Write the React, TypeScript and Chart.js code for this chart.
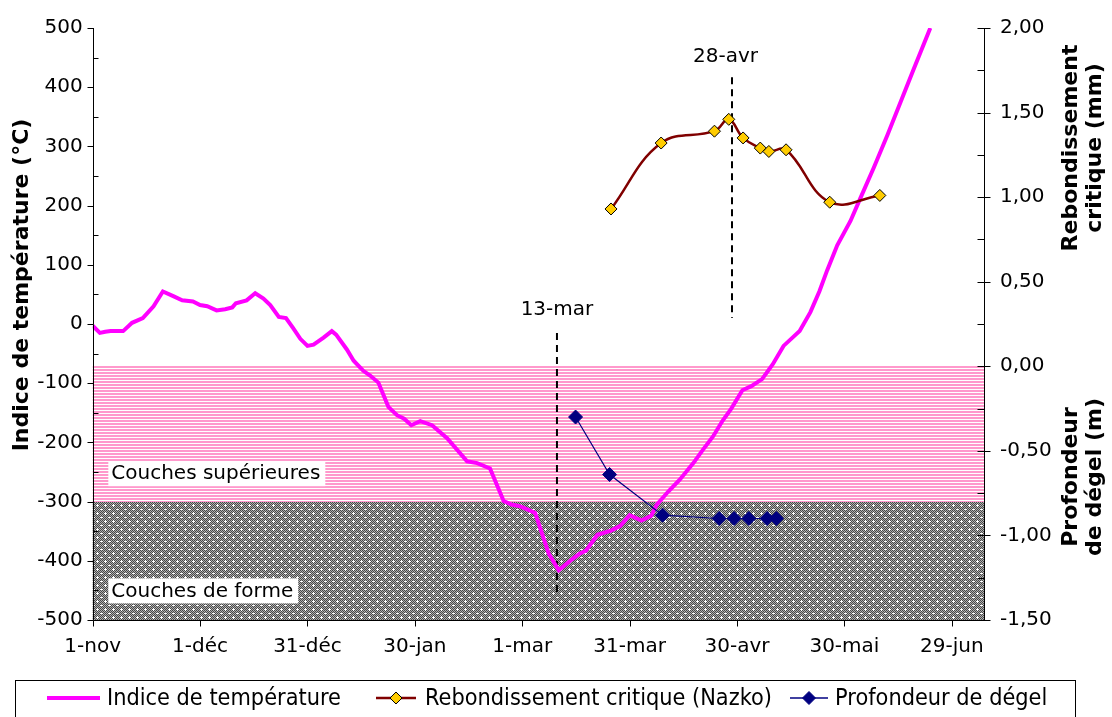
import { useEffect, useRef } from "react";
import { Chart, registerables } from "chart.js";

Chart.register(...registerables);

// ---------- data ----------
const xTickDays = [0, 30, 60, 90, 120, 150, 180, 210, 240];
const xTickLabels = ["1-nov", "1-déc", "31-déc", "30-jan", "1-mar", "31-mar", "30-avr", "30-mai", "29-jun"];
const yLeftTicks = [-500, -400, -300, -200, -100, 0, 100, 200, 300, 400, 500];
const yRightTicks = [-1.5, -1, -0.5, 0, 0.5, 1, 1.5, 2];

// Indice de température (°C) — days since 1-nov
const tempDays = [
  0, 2, 3.5, 5, 8.5, 11, 14, 17, 19.6, 22.5, 25, 28, 30, 32, 34.6, 37, 39, 40, 43, 45.4,
  47.7, 49.6, 52, 54, 56, 58, 60, 61.7, 64.5, 66.8, 68, 71, 72.9, 75.6, 77.5, 79.8, 82.6, 85,
  87, 89, 91.5, 94.8, 99, 104.6, 107.4, 111, 114.8, 117, 119.5, 123.6, 127.4, 130.2, 134, 136,
  137.8, 141, 144.8, 147.4, 150, 153.3, 156, 157.6, 160.8, 164, 167.8, 170.4, 173.3, 176,
  178.4, 181.5, 184, 187, 190, 193, 195.5, 197.5, 200.5, 203, 205.2, 208, 211.7, 214.5, 218.2,
  222, 225.7, 229.4, 234,
];
const tempValues = [
  -3, -15, -13, -12, -12, 2, 10, 30, 55, 47, 40, 38, 32, 30, 23, 25, 28, 35, 40, 52,
  43, 32, 12, 10, -7, -25, -37, -35, -23, -12, -18, -43, -62, -79, -87, -99, -140, -154,
  -160, -171, -164, -171, -193, -232, -235, -244, -299, -305, -308, -319, -388, -416, -397, -388,
  -383, -356, -349, -341, -323, -332, -324, -305, -283, -263, -235, -213, -190, -163,
  -143, -112, -105, -93, -68, -37, -23, -12, 20, 55, 91, 133, 174, 213, 264,
  319, 375, 431, 500,
];

// Rebondissement critique (Nazko) (mm)
const rebDays = [144.8, 158.8, 173.7, 177.7, 181.7, 186.5, 188.9, 193.7, 205.9, 219.9];
const rebValues = [0.93, 1.32, 1.39, 1.46, 1.35, 1.29, 1.27, 1.28, 0.97, 1.01];

// Profondeur de dégel (m)
const depthDays = [134.9, 144.4, 159.2, 175, 179.2, 183.3, 188.4, 191];
const depthValues = [-0.3, -0.64, -0.88, -0.9, -0.9, -0.9, -0.9, -0.9];

// layer bands (right axis, m)
const bandLabels = ["Couches supérieures", "Couches de forme"];
const bandTops = [0, -0.8];
const bandBottoms = [-0.8, -1.5];
const bandLabelDays = [5.2, 5.2];
const bandLabelValues = [-252, -450];

// date markers
const markerLabels = ["13-mar", "28-avr"];
const markerDays = [129.7, 178.6];
const markerTops = [-15, 417];
const markerBottoms = [-461, 10];
const markerLabelDays = [129.7, 176.8];
const markerLabelValues = [24, 452];

const legendLabels = ["Indice de température", "Rebondissement critique (Nazko)", "Profondeur de dégel"];

const FONT = "DejaVu Sans";

function makePinkPattern(ctx: CanvasRenderingContext2D) {
  const c = document.createElement("canvas");
  c.width = 4;
  c.height = 3;
  const g = c.getContext("2d")!;
  g.fillStyle = "#ffffff";
  g.fillRect(0, 0, 4, 3);
  g.fillStyle = "#ff99cc";
  g.fillRect(0, 0, 4, 2);
  return ctx.createPattern(c, "repeat")!;
}

function makeGrayPattern(ctx: CanvasRenderingContext2D) {
  const c = document.createElement("canvas");
  c.width = 8;
  c.height = 8;
  const g = c.getContext("2d")!;
  for (let yy = 0; yy < 8; yy++) {
    for (let xx = 0; xx < 8; xx++) {
      g.fillStyle = (xx + yy) % 2 === 0 ? "#474747" : "#b0b0b0";
      g.fillRect(xx, yy, 1, 1);
    }
  }
  g.fillStyle = "#ffffff";
  g.fillRect(0, 1, 3, 1);
  g.fillRect(1, 0, 1, 1);
  g.fillRect(1, 2, 1, 1);
  g.fillRect(4, 5, 3, 1);
  return ctx.createPattern(c, "repeat")!;
}

function drawDiamond(ctx: CanvasRenderingContext2D, x: number, y: number, r: number, fill: string, stroke: string) {
  ctx.beginPath();
  ctx.moveTo(x, y - r);
  ctx.lineTo(x + r, y);
  ctx.lineTo(x, y + r);
  ctx.lineTo(x - r, y);
  ctx.closePath();
  ctx.fillStyle = fill;
  ctx.fill();
  ctx.lineWidth = 1;
  ctx.strokeStyle = stroke;
  ctx.stroke();
}

const decoPlugin = {
  id: "deco",
  beforeDatasetsDraw(chart: any) {
    const { ctx, chartArea: a, scales } = chart;
    const x = scales.x, y = scales.y, y2 = scales.y2;
    ctx.save();
    const fills = [makePinkPattern(ctx), makeGrayPattern(ctx)];
    for (let i = 0; i < bandTops.length; i++) {
      const t = y2.getPixelForValue(bandTops[i]);
      const b = y2.getPixelForValue(bandBottoms[i]);
      ctx.fillStyle = fills[i];
      ctx.fillRect(a.left, Math.round(t), a.right - a.left, Math.round(b) - Math.round(t));
    }
    ctx.font = `20px ${FONT}`;
    ctx.textBaseline = "middle";
    ctx.textAlign = "left";
    for (let i = 0; i < bandLabels.length; i++) {
      const px = x.getPixelForValue(bandLabelDays[i]);
      const py = y.getPixelForValue(bandLabelValues[i]);
      const w = ctx.measureText(bandLabels[i]).width;
      ctx.fillStyle = "#ffffff";
      ctx.fillRect(px - 3, py - 12, w + 8, 25);
      ctx.fillStyle = "#000000";
      ctx.fillText(bandLabels[i], px, py + 1);
    }
    ctx.restore();
  },
  afterDraw(chart: any) {
    const { ctx, chartArea: a, scales } = chart;
    const x = scales.x, y = scales.y, y2 = scales.y2;
    ctx.save();
    // axes
    ctx.strokeStyle = "#000";
    ctx.lineWidth = 1;
    const L = Math.round(a.left) + 0.5;
    const R = Math.round(a.right) + 0.5;
    const B = Math.round(a.bottom) + 0.5;
    ctx.beginPath();
    ctx.moveTo(L, a.top);
    ctx.lineTo(L, B);
    ctx.lineTo(R, B);
    ctx.moveTo(R, a.top);
    ctx.lineTo(R, B);
    for (let v = -500; v <= 500; v += 50) {
      const py = Math.round(y.getPixelForValue(v)) + 0.5;
      if (v % 100 === 0) {
        ctx.moveTo(L - 6, py);
        ctx.lineTo(L, py);
      } else {
        ctx.moveTo(L, py);
        ctx.lineTo(L + 5, py);
      }
    }
    for (let v = -1.5; v <= 2.001; v += 0.25) {
      const py = Math.round(y2.getPixelForValue(v)) + 0.5;
      const major = Math.abs(v * 2 - Math.round(v * 2)) < 1e-6;
      if (major) {
        ctx.moveTo(R - 7, py);
        ctx.lineTo(R + 6, py);
      } else {
        ctx.moveTo(R - 7, py);
        ctx.lineTo(R, py);
      }
    }
    for (const d of xTickDays) {
      const px = Math.round(x.getPixelForValue(d)) + 0.5;
      ctx.moveTo(px, B);
      ctx.lineTo(px, B + 6);
    }
    ctx.stroke();

    // marker labels
    ctx.fillStyle = "#000";
    ctx.font = `20px ${FONT}`;
    ctx.textAlign = "center";
    ctx.textBaseline = "middle";
    for (let i = 0; i < markerLabels.length; i++) {
      ctx.fillText(markerLabels[i], x.getPixelForValue(markerLabelDays[i]), y.getPixelForValue(markerLabelValues[i]));
    }

    // axis titles
    ctx.font = `bold 22px ${FONT}`;
    const vtext = (lines: string[], cx: number, cy: number, gap: number) => {
      ctx.save();
      ctx.translate(cx, cy);
      ctx.rotate(-Math.PI / 2);
      lines.forEach((t, k) => {
        const off = (k - (lines.length - 1) / 2) * gap;
        ctx.fillText(t, 0, off);
      });
      ctx.restore();
    };
    vtext(["Indice de température (°C)"], 22, 285, 0);
    vtext(["Rebondissement", "critique (mm)"], 1083, 148, 24);
    vtext(["Profondeur", "de dégel (m)"], 1083, 477, 24);

    // legend
    ctx.lineWidth = 1;
    ctx.strokeStyle = "#000";
    ctx.strokeRect(15.5, 680.5, 1060, 80);
    const ly = 698;
    ctx.lineCap = "butt";
    ctx.strokeStyle = "#ff00ff";
    ctx.lineWidth = 4;
    ctx.beginPath();
    ctx.moveTo(47, ly);
    ctx.lineTo(100, ly);
    ctx.stroke();
    ctx.strokeStyle = "#800000";
    ctx.lineWidth = 2.5;
    ctx.beginPath();
    ctx.moveTo(376, ly);
    ctx.lineTo(416, ly);
    ctx.stroke();
    drawDiamond(ctx, 396, ly, 6, "#ffcc00", "#000");
    ctx.strokeStyle = "#000080";
    ctx.lineWidth = 1.5;
    ctx.beginPath();
    ctx.moveTo(790, ly);
    ctx.lineTo(828, ly);
    ctx.stroke();
    drawDiamond(ctx, 809, ly, 6.5, "#000080", "#000080");
    ctx.fillStyle = "#000";
    ctx.font = `23px ${FONT}`;
    ctx.textAlign = "left";
    ctx.textBaseline = "middle";
    const lx = [107, 425, 835];
    legendLabels.forEach((t, i) => {
      ctx.save();
      ctx.translate(lx[i], ly + 1);
      ctx.scale(0.91, 1);
      ctx.fillText(t, 0, 0);
      ctx.restore();
    });
    ctx.restore();
  },
};

export default function App() {
  const ref = useRef<HTMLCanvasElement | null>(null);
  useEffect(() => {
    if (!ref.current) return;
    Chart.defaults.font.family = FONT;
    const markerSets = markerDays.map((d, i) => ({
      type: "line" as const,
      label: markerLabels[i],
      data: [
        { x: d, y: markerTops[i] },
        { x: d, y: markerBottoms[i] },
      ],
      borderColor: "#000",
      borderWidth: 2,
      borderDash: [7, 5],
      pointRadius: 0,
      yAxisID: "y",
      order: 5,
    }));
    const chart = new Chart(ref.current, {
      type: "line",
      data: {
        datasets: [
          {
            label: legendLabels[2],
            data: depthDays.map((d, i) => ({ x: d, y: depthValues[i] })),
            borderColor: "#000080",
            borderWidth: 1.2,
            pointStyle: "rectRot",
            pointRadius: 7,
            pointBackgroundColor: "#000080",
            pointBorderColor: "#000080",
            pointBorderWidth: 1,
            yAxisID: "y2",
            tension: 0,
            order: 0,
          },
          {
            label: legendLabels[1],
            data: rebDays.map((d, i) => ({ x: d, y: rebValues[i] })),
            borderColor: "#800000",
            borderWidth: 2.5,
            pointStyle: "rectRot",
            pointRadius: 6,
            pointBackgroundColor: "#ffcc00",
            pointBorderColor: "#000000",
            pointBorderWidth: 1,
            yAxisID: "y2",
            tension: 0.4,
            order: 1,
          },
          {
            label: legendLabels[0],
            data: tempDays.map((d, i) => ({ x: d, y: tempValues[i] })),
            borderColor: "#ff00ff",
            borderWidth: 4,
            pointRadius: 0,
            yAxisID: "y",
            tension: 0,
            order: 2,
          },
          ...markerSets,
        ],
      },
      options: {
        animation: false,
        responsive: true,
        maintainAspectRatio: false,
        layout: { padding: { top: 22, left: 0, right: 0, bottom: 0 } },
        plugins: { legend: { display: false }, tooltip: { enabled: false } },
        scales: {
          x: {
            type: "linear",
            position: "bottom",
            min: 0,
            max: 249,
            afterBuildTicks: (s: any) => {
              s.ticks = xTickDays.map((v) => ({ value: v }));
            },
            afterFit: (s: any) => {
              s.height = 97;
            },
            ticks: {
              autoSkip: false,
              maxRotation: 0,
              padding: 15,
              color: "#000",
              font: { size: 20, family: FONT },
              callback: (v: any) => {
                const i = xTickDays.indexOf(Number(v));
                return i >= 0 ? xTickLabels[i] : "";
              },
            },
            grid: { display: false, drawTicks: false },
            border: { display: false },
          },
          y: {
            type: "linear",
            position: "left",
            min: -500,
            max: 500,
            afterBuildTicks: (s: any) => {
              s.ticks = yLeftTicks.map((v) => ({ value: v }));
            },
            afterFit: (s: any) => {
              s.width = 92.7;
            },
            ticks: {
              padding: 10,
              color: "#000",
              font: { size: 20, family: FONT },
              callback: (v: any) => String(v),
            },
            grid: { display: false, drawTicks: false },
            border: { display: false },
          },
          y2: {
            type: "linear",
            position: "right",
            min: -1.5,
            max: 2,
            afterBuildTicks: (s: any) => {
              s.ticks = yRightTicks.map((v) => ({ value: v }));
            },
            afterFit: (s: any) => {
              s.width = 128;
            },
            ticks: {
              padding: 16,
              color: "#000",
              font: { size: 20, family: FONT },
              callback: (v: any) => Number(v).toFixed(2).replace(".", ","),
            },
            grid: { display: false, drawTicks: false },
            border: { display: false },
          },
        },
      },
      plugins: [decoPlugin],
    });
    return () => chart.destroy();
  }, []);
  return (
    <div style={{ position: "fixed", left: 0, top: 0, width: 1112, height: 717, background: "#fff" }}>
      <canvas ref={ref} />
    </div>
  );
}
